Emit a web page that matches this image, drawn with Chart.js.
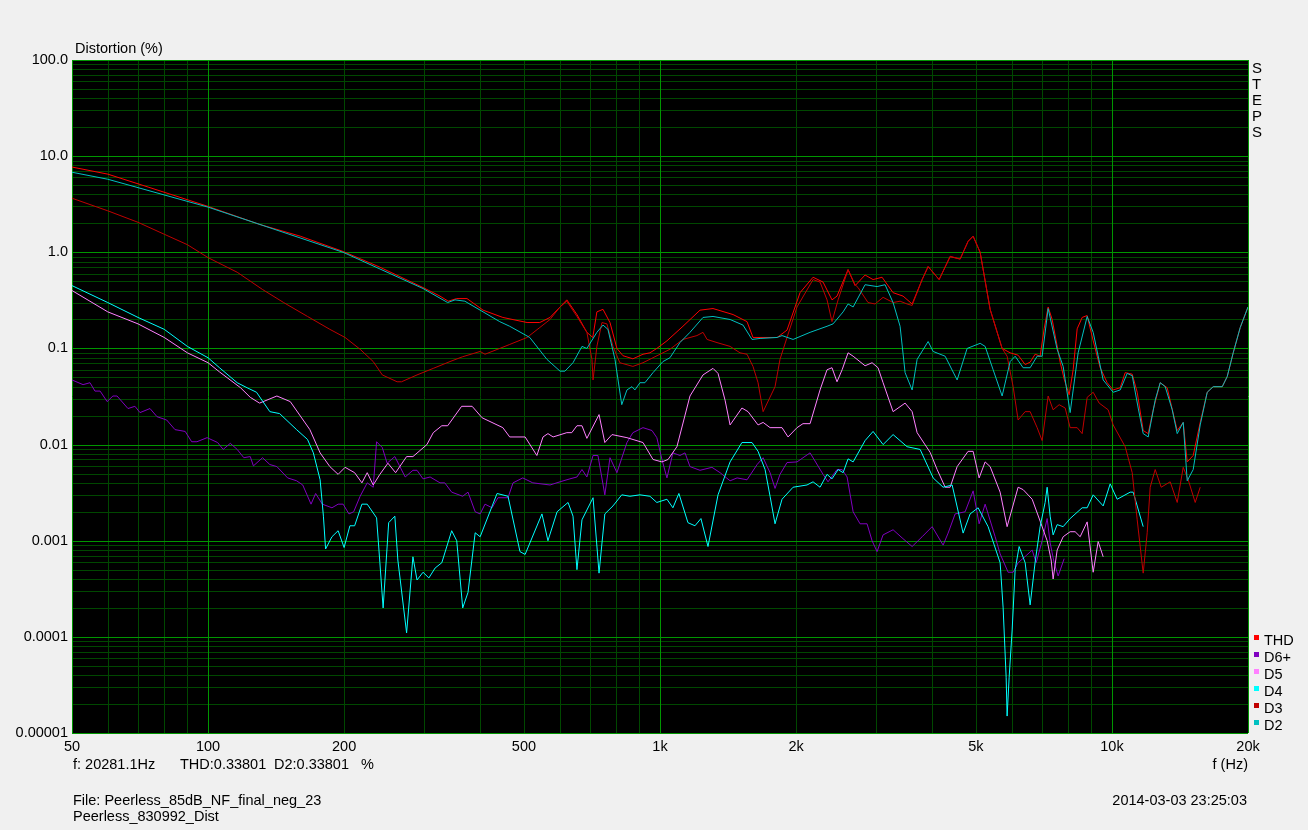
<!DOCTYPE html>
<html>
<head>
<meta charset="utf-8">
<title>Distortion (%)</title>
<script src="https://cdn.jsdelivr.net/npm/chart.js@4.4.1/dist/chart.umd.min.js"></script>
<style>
  html, body { margin: 0; padding: 0; background: #f0f0f0; }
  canvas { display: block; }
</style>
</head>
<body>
<canvas id="distChart" width="1308" height="830"></canvas>
<script>
// frequency (Hz) / distortion (%) pairs
const thdFreq = [50,60,74,100,130,160,199,240,299,326,340,355,374,406,449,508,542,571,601,622,655,689,710,725,748,775,803,828,871,917,950,984,1036,1124,1226,1310,1451,1558,1606,1725,1816,1910,2041,2181,2295,2402,2464,2607,2702,2843,2961,3100,3279,3450,3613,3802,3920,4146,4385,4614,4805,4930,5109,5376,5715,5953,6200,6426,6592,6762,6936,7079,7225,7374,7681,7839,8041,8206,8376,8592,8814,9088,9418,9760,10063,10428,10697,11087,11373,11726,12028,12338,12787,13251,13944,14377,14673,15128,15678,16248,16752,17540,17991,18549,19223,20000];
const thdVal = [7.7,6.5,4.74,3.0,1.95,1.47,1.02,0.7,0.43,0.35,0.31,0.33,0.33,0.25,0.21,0.186,0.186,0.21,0.27,0.32,0.225,0.147,0.13,0.24,0.255,0.186,0.1,0.084,0.078,0.087,0.09,0.1,0.12,0.17,0.25,0.26,0.225,0.19,0.13,0.13,0.13,0.155,0.38,0.55,0.49,0.32,0.35,0.66,0.45,0.58,0.52,0.55,0.38,0.35,0.29,0.52,0.71,0.52,0.9,0.85,1.3,1.47,1.0,0.255,0.1,0.09,0.085,0.068,0.072,0.087,0.083,0.16,0.27,0.2,0.072,0.048,0.033,0.06,0.16,0.21,0.22,0.12,0.063,0.044,0.037,0.039,0.056,0.054,0.035,0.014,0.013,0.023,0.044,0.039,0.014,0.017,0.0066,0.0077,0.017,0.035,0.04,0.04,0.051,0.09,0.165,0.27];

const d6Freq = [50,52.9,54.8,56.2,57.7,59.8,61.6,62.9,66.5,68.9,70.7,74.4,77.1,81,84.5,89,92,94.5,99.5,105,108,112,116,120,124,126,132,137,142,150,157,162,169,173,179,188,194,199,205,210,217,225,232,236,243,249,259,273,284,290,299,310,326,334,346,366,376,390,400,410,425,438,461,473,497,523,571,601,632,655,672,689,711,729,755,775,803,845,871,917,960,984,1010,1036,1068,1107,1136,1165,1226,1303,1358,1429,1481,1558,1640,1691,1752,1797,1843,1910,2010,2148,2295,2354,2464,2529,2594,2675,2771,2872,2946,3022,3116,3279,3433,3613,3802,4001,4231,4340,4498,4733,4930,5083,5241,5515,5657,5892,6045,6200,6459,6660,6797,7007,7188,7299,7449,7603,7839];
const d6Val = [0.047,0.042,0.044,0.036,0.036,0.028,0.032,0.032,0.0237,0.025,0.0215,0.0237,0.0195,0.018,0.0143,0.0137,0.0107,0.0107,0.0118,0.0105,0.0089,0.0103,0.0089,0.0073,0.0075,0.006,0.0073,0.0062,0.0059,0.0045,0.0042,0.0038,0.0024,0.0031,0.0024,0.0022,0.0024,0.0024,0.0019,0.002,0.0029,0.004,0.0036,0.0107,0.0093,0.0064,0.0075,0.0046,0.0054,0.0054,0.0044,0.0046,0.004,0.004,0.0032,0.0029,0.0032,0.002,0.0019,0.0024,0.0022,0.0028,0.0028,0.004,0.0045,0.004,0.0038,0.0041,0.0044,0.0046,0.0055,0.0046,0.0077,0.0077,0.003,0.0073,0.0051,0.0105,0.0133,0.015,0.014,0.0118,0.007,0.0045,0.0082,0.0077,0.0082,0.0059,0.0054,0.0058,0.0051,0.0042,0.0045,0.0043,0.0062,0.0073,0.0051,0.0035,0.0049,0.0065,0.0066,0.0082,0.0049,0.0041,0.0055,0.0055,0.0046,0.002,0.0015,0.0015,0.001,0.00077,0.00115,0.0013,0.00107,0.00087,0.0011,0.0014,0.0009,0.0012,0.0019,0.002,0.0033,0.0015,0.0024,0.0011,0.00073,0.00047,0.00047,0.00059,0.0007,0.0008,0.00059,0.001,0.0017,0.00095,0.00059,0.00043,0.00065];

const d5Freq = [50,60,70,80,90,100,106,118,124,130,142,152,168,177,186,194,201,211,219,225,232,240,250,260,275,284,305,315,329,339,364,384,404,449,465,503,534,551,565,580,622,638,655,672,689,733,755,783,845,917,965,1010,1042,1090,1165,1245,1310,1344,1393,1429,1518,1566,1648,1691,1752,1862,1920,2010,2072,2148,2260,2342,2402,2464,2529,2607,2675,2843,2946,3037,3116,3279,3486,3613,3706,3960,4104,4275,4385,4544,4805,4930,5083,5241,5376,5657,5862,6200,6360,6660,6936,7188,7336,7411,7564,7799,8082,8290,8505,8814,9088,9322,9563];
const d5Val = [0.4,0.24,0.18,0.13,0.09,0.071,0.057,0.039,0.031,0.027,0.032,0.028,0.0143,0.0082,0.0059,0.0049,0.0058,0.0051,0.004,0.0051,0.0038,0.0049,0.0064,0.0051,0.0075,0.0075,0.01,0.0133,0.0157,0.0157,0.025,0.025,0.019,0.015,0.012,0.012,0.0077,0.012,0.013,0.012,0.0133,0.0133,0.0157,0.0157,0.0116,0.0205,0.0105,0.0127,0.0118,0.0105,0.007,0.0066,0.007,0.0095,0.032,0.053,0.062,0.055,0.029,0.016,0.024,0.022,0.016,0.017,0.015,0.015,0.012,0.015,0.0165,0.0165,0.037,0.06,0.063,0.045,0.06,0.09,0.083,0.066,0.071,0.063,0.044,0.022,0.027,0.022,0.0133,0.0083,0.0055,0.0036,0.0036,0.0059,0.0085,0.0085,0.0045,0.0066,0.0059,0.0032,0.0014,0.0036,0.0034,0.0027,0.0016,0.001,0.00063,0.0004,0.0008,0.0011,0.00124,0.00124,0.0011,0.00157,0.00047,0.00098,0.00068];

const d4Freq = [50,60,70,80,90,100,106,116,122,128,137,144,157,166,171,177,180,182,188,194,200,206,211,219,225,236,240,244,251,259,263,275,284,290,299,308,318,329,346,355,366,376,390,400,436,461,490,503,548,565,592,626,642,655,672,711,733,755,787,823,858,903,950,984,1036,1068,1101,1153,1195,1232,1277,1344,1429,1518,1598,1648,1708,1752,1797,1862,1970,2115,2181,2260,2342,2402,2478,2542,2607,2675,2843,2961,3116,3279,3521,3763,4021,4231,4430,4685,4855,5057,5321,5657,5744,5833,5862,5923,6014,6107,6232,6426,6592,6762,6936,7115,7188,7299,7411,7564,7799,8082,8592,8814,9088,9563,9910,10270,10974,11143,11726];
const d4Val = [0.45,0.3,0.21,0.158,0.105,0.08,0.063,0.044,0.039,0.035,0.022,0.021,0.0143,0.0113,0.0082,0.0043,0.0018,0.00082,0.0011,0.00127,0.00085,0.00143,0.00143,0.0024,0.0024,0.00173,0.00059,0.0002,0.00154,0.0018,0.00063,0.00011,0.00068,0.00039,0.00047,0.00041,0.00052,0.00059,0.00127,0.001,0.0002,0.00029,0.00121,0.0011,0.0031,0.0029,0.00077,0.00072,0.0019,0.001,0.002,0.0025,0.0018,0.0005,0.00165,0.0028,0.00046,0.0019,0.0023,0.003,0.0029,0.003,0.0029,0.0025,0.0027,0.0022,0.0031,0.00154,0.00143,0.0017,0.00087,0.003,0.0066,0.0105,0.0105,0.0085,0.0055,0.0029,0.0015,0.0027,0.0036,0.0038,0.0041,0.0036,0.0049,0.0044,0.0055,0.0051,0.0071,0.0066,0.011,0.0137,0.01,0.0127,0.0095,0.0089,0.0045,0.0036,0.0038,0.0012,0.0019,0.0022,0.0014,0.00059,0.0002,0.000038,0.000015,0.000038,0.000118,0.0005,0.00087,0.00059,0.000215,0.0006,0.0014,0.0025,0.0036,0.0018,0.00115,0.00147,0.0014,0.0017,0.0022,0.0022,0.003,0.0023,0.0039,0.0027,0.0032,0.0032,0.0014];

const d3Freq = [50,60,70,80,90,100,116,132,147,166,186,201,217,232,243,262,268,290,315,343,366,400,410,442,465,508,542,571,601,622,655,689,707,711,725,744,763,787,815,871,917,1000,1052,1124,1207,1245,1271,1337,1429,1503,1558,1606,1648,1691,1797,1843,1910,2010,2181,2260,2342,2402,2478,2607,2702,2743,2886,2991,3116,3279,3398,3521,3613,3802,3920,4146,4385,4614,4805,4930,5109,5376,5715,5862,6045,6200,6426,6592,6831,7007,7225,7411,7642,7879,8082,8376,8592,8814,9088,9370,9809,10063,10697,11087,11373,11726,11967,12151,12465,12852,13455,13944,14377,14748,15284,15678];
const d3Val = [3.65,2.7,2.05,1.54,1.2,0.88,0.62,0.41,0.3,0.215,0.158,0.13,0.098,0.073,0.053,0.045,0.045,0.053,0.062,0.073,0.082,0.093,0.087,0.1,0.11,0.13,0.165,0.2,0.27,0.31,0.215,0.147,0.077,0.047,0.105,0.186,0.18,0.105,0.071,0.065,0.071,0.087,0.098,0.124,0.136,0.147,0.124,0.115,0.105,0.09,0.087,0.065,0.044,0.022,0.04,0.077,0.13,0.27,0.52,0.49,0.32,0.19,0.32,0.66,0.46,0.43,0.3,0.29,0.34,0.3,0.31,0.29,0.28,0.52,0.71,0.52,0.91,0.85,1.3,1.47,1.0,0.255,0.1,0.083,0.04,0.018,0.022,0.022,0.015,0.011,0.032,0.023,0.026,0.024,0.015,0.015,0.013,0.031,0.035,0.027,0.023,0.016,0.0095,0.0051,0.00165,0.00046,0.00121,0.0036,0.0055,0.0036,0.0041,0.0025,0.0058,0.0043,0.0025,0.0036];

const d2Freq = [50,60,100,199,299,339,352,370,406,442,465,515,562,601,616,642,672,689,725,748,767,795,823,845,867,880,903,926,965,1015,1052,1107,1165,1245,1310,1429,1526,1598,1665,1816,1862,1970,2148,2342,2415,2542,2607,2675,2843,3022,3148,3279,3398,3486,3613,3706,3920,4021,4275,4544,4782,5109,5241,5459,5715,5953,6107,6360,6592,6831,7007,7225,7564,7799,8082,8418,8814,9088,9563,10063,10428,10806,11087,11431,11726,12028,12465,12787,13117,13594,13944,14377,14673,15128,15678,16248,16752,17540,17991,18549,19223,20000];
const d2Val = [6.8,5.75,2.95,1.0,0.42,0.3,0.32,0.31,0.24,0.19,0.17,0.13,0.077,0.058,0.058,0.071,0.105,0.1,0.147,0.175,0.158,0.077,0.026,0.037,0.04,0.037,0.044,0.044,0.056,0.073,0.08,0.115,0.147,0.21,0.215,0.2,0.175,0.124,0.127,0.13,0.136,0.124,0.147,0.17,0.18,0.24,0.29,0.27,0.46,0.44,0.46,0.3,0.17,0.056,0.037,0.077,0.118,0.093,0.083,0.047,0.1,0.113,0.105,0.06,0.032,0.073,0.083,0.063,0.063,0.083,0.083,0.26,0.098,0.065,0.0215,0.09,0.215,0.147,0.047,0.035,0.037,0.055,0.052,0.024,0.013,0.012,0.029,0.044,0.04,0.023,0.013,0.017,0.0042,0.0055,0.016,0.035,0.04,0.04,0.051,0.09,0.165,0.27];

const seriesNames = ["THD", "D6+", "D5", "D4", "D3", "D2"];
const seriesColors = ["#ff0000", "#8000c0", "#ff80ff", "#00ffff", "#c00000", "#00c0c0"];
const seriesFreqs = [thdFreq, d6Freq, d5Freq, d4Freq, d3Freq, d2Freq];
const seriesVals = [thdVal, d6Val, d5Val, d4Val, d3Val, d2Val];

const xTickValues = [50, 100, 200, 500, 1000, 2000, 5000, 10000, 20000];
const xTickLabels = ["50", "100", "200", "500", "1k", "2k", "5k", "10k", "20k"];
const yTickValues = [100, 10, 1, 0.1, 0.01, 0.001, 0.0001, 0.00001];
const yTickLabels = ["100.0", "10.0", "1.0", "0.1", "0.01", "0.001", "0.0001", "0.00001"];

const majorGrid = "rgb(0,150,0)";
const minorGrid = "rgb(0,72,0)";
const FAMILY = '"Liberation Sans", Arial, sans-serif';
const FONT = "14.5px " + FAMILY;

// 1..9 x 10^n grid positions between min and max
function gridValues(min, max) {
  const out = [];
  for (let e = Math.floor(Math.log10(min)); e <= Math.ceil(Math.log10(max)); e++) {
    for (let m = 1; m < 10; m++) {
      const v = m * Math.pow(10, e);
      if (v >= min * 0.999 && v <= max * 1.001) out.push(v);
    }
  }
  return out;
}

function same(a, b) {
  return Math.abs(Math.log10(a / b)) < 1e-6;
}

function labelFor(v, values, labels) {
  const i = values.findIndex((t) => same(t, v));
  return i >= 0 ? labels[i] : "";
}

function isDecade(v) {
  const l = Math.log10(v);
  return Math.abs(l - Math.round(l)) < 1e-6;
}

const xGrid = gridValues(50, 20000);
const yGrid = gridValues(0.00001, 100);

function pts(f, v) {
  return f.map((x, i) => ({ x: x, y: v[i] }));
}

// black plot field plus the green log grid, drawn from the chart's own scales
const plotBackground = {
  id: "plotBackground",
  beforeDraw(chart) {
    const c = chart.ctx;
    const a = chart.chartArea;
    c.save();
    c.fillStyle = "#f0f0f0";
    c.fillRect(0, 0, chart.width, chart.height);
    c.fillStyle = "#000";
    c.fillRect(a.left, a.top, a.right - a.left, a.bottom - a.top);
    c.restore();
  },
  beforeDatasetsDraw(chart) {
    const c = chart.ctx;
    const a = chart.chartArea;
    const xs = chart.scales.x;
    const ys = chart.scales.y;
    c.save();
    c.lineWidth = 1;
    [false, true].forEach((major) => {
      c.strokeStyle = major ? majorGrid : minorGrid;
      c.beginPath();
      xGrid.forEach((v) => {
        const m = isDecade(v) || same(v, 50) || same(v, 20000);
        if (m !== major) return;
        const px = Math.round(xs.getPixelForValue(v)) + 0.5;
        c.moveTo(px, a.top);
        c.lineTo(px, a.bottom);
      });
      yGrid.forEach((v) => {
        if (isDecade(v) !== major) return;
        const py = Math.round(ys.getPixelForValue(v)) + 0.5;
        c.moveTo(a.left, py);
        c.lineTo(a.right, py);
      });
      c.stroke();
    });
    c.restore();
  },
};

const chartText = {
  id: "chartText",
  afterDraw(chart) {
    const c = chart.ctx;
    c.save();
    c.font = FONT;
    c.fillStyle = "#000";
    c.textBaseline = "alphabetic";
    c.textAlign = "left";
    c.fillText("Distortion (%)", 75, 53);

    // vertical STEPS tag at the right edge
    c.font = "15px " + FAMILY;
    "STEPS".split("").forEach((ch, i) => c.fillText(ch, 1252, 73 + i * 16));
    c.font = FONT;

    c.fillText("f: 20281.1Hz", 73, 769);
    c.fillText("THD:0.33801", 180, 769);
    c.fillText("D2:0.33801", 274, 769);
    c.fillText("%", 361, 769);
    c.fillText("File: Peerless_85dB_NF_final_neg_23", 73, 805);
    c.fillText("Peerless_830992_Dist", 73, 821);

    c.textAlign = "right";
    c.fillText("f (Hz)", 1248, 769);
    c.fillText("2014-03-03 23:25:03", 1247, 805);

    // legend
    c.textAlign = "left";
    chart.data.datasets.forEach((ds, i) => {
      const base = 645 + i * 17;
      c.fillStyle = ds.borderColor;
      c.fillRect(1254, base - 10, 5, 5);
      c.fillStyle = "#000";
      c.fillText(ds.label, 1264, base);
    });
    c.restore();
  },
};

var ctx = document.getElementById("distChart").getContext("2d");

new Chart(ctx, {
  type: "scatter",
  data: {
    datasets: seriesNames.map((name, i) => ({
      label: name,
      data: pts(seriesFreqs[i], seriesVals[i]),
      showLine: true,
      borderColor: seriesColors[i],
      backgroundColor: seriesColors[i],
      borderWidth: 1,
      pointRadius: 0,
      pointHoverRadius: 0,
      tension: 0,
      order: seriesNames.length - 1 - i, // D2 ends up on top
    })),
  },
  options: {
    responsive: false,
    animation: false,
    events: [],
    layout: { padding: { top: 60, right: 60, left: 0, bottom: 0 } },
    plugins: {
      legend: { display: false },
      tooltip: { enabled: false },
    },
    scales: {
      x: {
        type: "logarithmic",
        position: "bottom",
        min: 50,
        max: 20000,
        afterBuildTicks: (s) => {
          s.ticks = xTickValues.map((v) => ({ value: v }));
        },
        afterFit: (s) => {
          s.height = 97;
        },
        ticks: {
          autoSkip: false,
          maxRotation: 0,
          minRotation: 0,
          padding: 5,
          color: "#000",
          font: { family: FAMILY, size: 14.5 },
          callback: (v) => labelFor(v, xTickValues, xTickLabels),
        },
        grid: { display: false, drawTicks: false },
        border: { display: false },
      },
      y: {
        type: "logarithmic",
        position: "left",
        min: 0.00001,
        max: 100,
        afterBuildTicks: (s) => {
          s.ticks = yTickValues.map((v) => ({ value: v }));
        },
        afterFit: (s) => {
          s.width = 72;
        },
        ticks: {
          autoSkip: false,
          padding: 4,
          color: "#000",
          font: { family: FAMILY, size: 14.5 },
          callback: (v) => labelFor(v, yTickValues, yTickLabels),
        },
        grid: { display: false, drawTicks: false },
        border: { display: false },
      },
    },
  },
  plugins: [plotBackground, chartText],
});
</script>
</body>
</html>
